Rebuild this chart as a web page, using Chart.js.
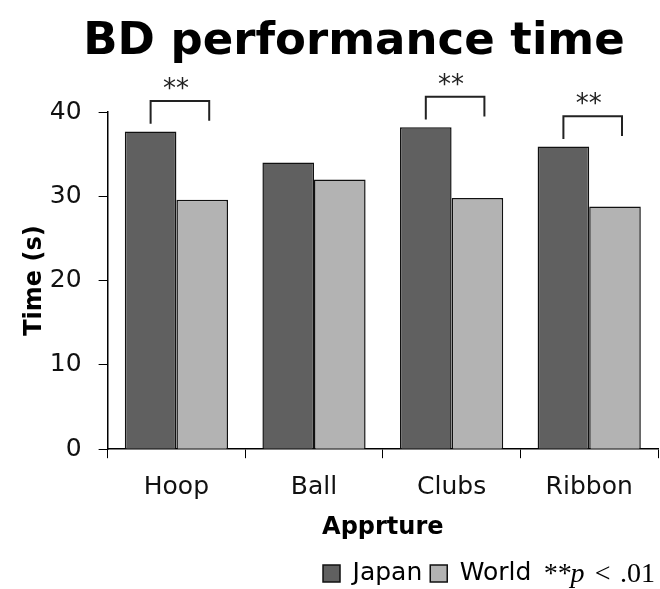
<!DOCTYPE html>
<html>
<head>
<meta charset="utf-8">
<script src="https://cdn.jsdelivr.net/npm/chart.js@4.4.0/dist/chart.umd.min.js"></script>
<style>
 html,body{margin:0;padding:0;background:#fff;}
 #wrap{width:660px;height:589px;}
</style>
</head>
<body>
<div id="wrap"><canvas id="btChart" width="660" height="589"></canvas></div>
<script>
// data
const categories=['Hoop','Ball','Clubs','Ribbon'];
const japanTimes=[37.7,34.0,38.2,35.9];
const worldTimes=[29.6,32.0,29.8,28.8];
const significant=[true,false,true,true];
const yTicks=[0,10,20,30,40];

//brackets + stars above the significant pairs
const sigPlugin={
 id:'sigBrackets',
 afterLayout(chart){
  // title sits a bit right of the canvas centre in the original
  const t=chart.titleBlock;
  t.left+=18;t.right+=18;
 },
 afterDatasetsDraw(chart){
  const c=chart.ctx;
  const y=chart.scales.y;
  const m0=chart.getDatasetMeta(0), m1=chart.getDatasetMeta(1);
  c.save();
  c.strokeStyle='#222';
  c.lineWidth=2;
  c.fillStyle='#222';
  c.font='26px "DejaVu Sans"';
  c.textAlign='center';
  c.textBaseline='middle';
  significant.forEach((s,i)=>{
   if(!s) return;
   const x1=m0.data[i].x, x2=m1.data[i].x+7;
   const yb=y.getPixelForValue(japanTimes[i]+0.9);
   const yt=y.getPixelForValue(japanTimes[i]+3.6);
   c.beginPath();
   c.moveTo(x1,yb);c.lineTo(x1,yt);c.lineTo(x2,yt);c.lineTo(x2,yb-3);
   c.stroke();
   c.fillText('**',(x1+x2)/2-4,yt-11);
  });
  c.restore();
 },
 afterDraw(chart){
  //p value note next to the legend
  const hb=chart.legend.legendHitBoxes[2];
  if(!hb) return;
  const c=chart.ctx;
  c.save();
  c.fillStyle='#000';
  c.textBaseline='middle';
  c.textAlign='left';
  const yy=hb.top+hb.height/2+1;
  c.font='28px "Liberation Serif"';
  const rest='\u2004<\u2004.01';
  const wr=c.measureText(rest).width;
  c.font='italic 28px "Liberation Serif"';
  const wi=c.measureText('**p').width;
  let x=655-wr-wi-1;
  c.fillText('**p',x,yy);
  c.font='28px "Liberation Serif"';
  c.fillText(rest,x+wi+1,yy);
  c.restore();
 }
};

new Chart(document.getElementById('btChart'),{
 type:'bar',
 data:{
  labels:categories,
  datasets:[{
   label:'Japan',
   data:japanTimes,
   backgroundColor:'#606060',
   borderColor:'#111',
   borderWidth:1.5,
   categoryPercentage:0.75,
   barPercentage:1
  },{
   label:'World',
   data:worldTimes,
   backgroundColor:'#b3b3b3',
   borderColor:'#111',
   borderWidth:1.5,
   categoryPercentage:0.75,
   barPercentage:1
  }]
 },
 options:{
  responsive:false,
  animation:false,
  layout:{padding:{left:14,right:2,top:0,bottom:-7}},
  scales:{
   x:{
    grid:{drawOnChartArea:false,color:'#000',tickLength:9,offset:true},
    border:{color:'#000',width:1.5},
    ticks:{color:'#111',font:{family:'DejaVu Sans',size:25},padding:14},
    title:{display:true,text:'Apprture',color:'#000',font:{family:'DejaVu Sans',size:24,weight:'bold'},padding:{top:-3,bottom:11}}
   },
   y:{
    min:0,max:40,
    afterBuildTicks(axis){axis.ticks=yTicks.map(v=>({value:v}));},
    grid:{drawOnChartArea:false,color:'#000',tickLength:9},
    border:{color:'#000',width:1.5},
    ticks:{color:'#111',font:{family:'DejaVu Sans',size:25},padding:17},
    title:{display:true,text:'Time (s)',color:'#000',font:{family:'DejaVu Sans',size:24,weight:'bold'},padding:{top:6,bottom:-16}}
   }
  },
  plugins:{
   title:{
    display:true,
    text:'BD performance time',
    color:'#000',
    font:{family:'DejaVu Sans',size:45,weight:'bold'},
    padding:{top:15,bottom:43}
   },
   legend:{
    position:'bottom',
    align:'end',
    labels:{
     boxWidth:17,boxHeight:17,
     font:{family:'DejaVu Sans',size:25},
     color:'#111',
     padding:8,
     generateLabels(chart){
      const items=chart.data.datasets.map((d,i)=>({
       text:d.label,fillStyle:d.backgroundColor,strokeStyle:'#111',lineWidth:1.5,datasetIndex:i
      }));
      items.push({text:'*p<.0.',fillStyle:'rgba(0,0,0,0)',strokeStyle:'rgba(0,0,0,0)',lineWidth:0,fontColor:'rgba(0,0,0,0)'});
      return items;
     }
    }
   },
   tooltip:{enabled:false}
  }
 },
 plugins:[sigPlugin]
});
</script>
</body>
</html>
